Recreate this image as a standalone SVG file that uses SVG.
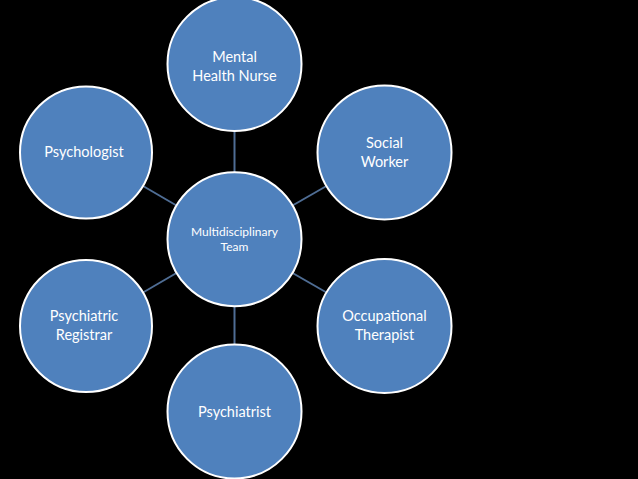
<svg xmlns="http://www.w3.org/2000/svg" width="638" height="479" viewBox="0 0 638 479">
<style>
.node{fill:#4f81bd;stroke:#ffffff;stroke-width:2}
.lbl{font-family:Lato,"Liberation Sans",sans-serif;font-size:14.5px;fill:#ffffff;text-anchor:middle}
.small{font-size:12px}
.conn{stroke:#4f6d94;stroke-width:2;fill:none}
</style>
<rect width="638" height="479" fill="#000000"/>
<g id="connectors">
<line class="conn" x1="234.5" y1="172" x2="234.5" y2="131"/>
<line class="conn" x1="234.5" y1="306" x2="234.5" y2="345"/>
<line class="conn" x1="292.5" y1="205.5" x2="326.5" y2="186"/>
<line class="conn" x1="292.5" y1="273" x2="326.5" y2="292.5"/>
<line class="conn" x1="176.5" y1="205.5" x2="143" y2="186"/>
<line class="conn" x1="176.5" y1="273" x2="143" y2="292.5"/>
</g>
<g id="center">
<circle class="node" cx="234.5" cy="239.2" r="67"/>
<text class="lbl small" x="234.5" y="236">Multidisciplinary</text>
<text class="lbl small" x="234.5" y="250.5">Team</text>
</g>
<g id="mental-health-nurse">
<circle class="node" cx="234.5" cy="64" r="67"/>
<text class="lbl" x="234.5" y="62">Mental</text>
<text class="lbl" x="234.5" y="81">Health Nurse</text>
</g>
<g id="social-worker">
<circle class="node" cx="384.5" cy="152.5" r="67"/>
<text class="lbl" x="384.5" y="148">Social</text>
<text class="lbl" x="384.5" y="166.5">Worker</text>
</g>
<g id="occupational-therapist">
<circle class="node" cx="384.5" cy="326" r="67"/>
<text class="lbl" x="384.5" y="321">Occupational</text>
<text class="lbl" x="384.5" y="339.5">Therapist</text>
</g>
<g id="psychiatrist">
<circle class="node" cx="234.5" cy="411.5" r="67"/>
<text class="lbl" x="234.5" y="416.5">Psychiatrist</text>
</g>
<g id="psychiatric-registrar">
<circle class="node" cx="86" cy="326" r="66"/>
<text class="lbl" x="84" y="321">Psychiatric</text>
<text class="lbl" x="84" y="339.5">Registrar</text>
</g>
<g id="psychologist">
<circle class="node" cx="86" cy="152.5" r="66"/>
<text class="lbl" x="84" y="157">Psychologist</text>
</g>
</svg>
